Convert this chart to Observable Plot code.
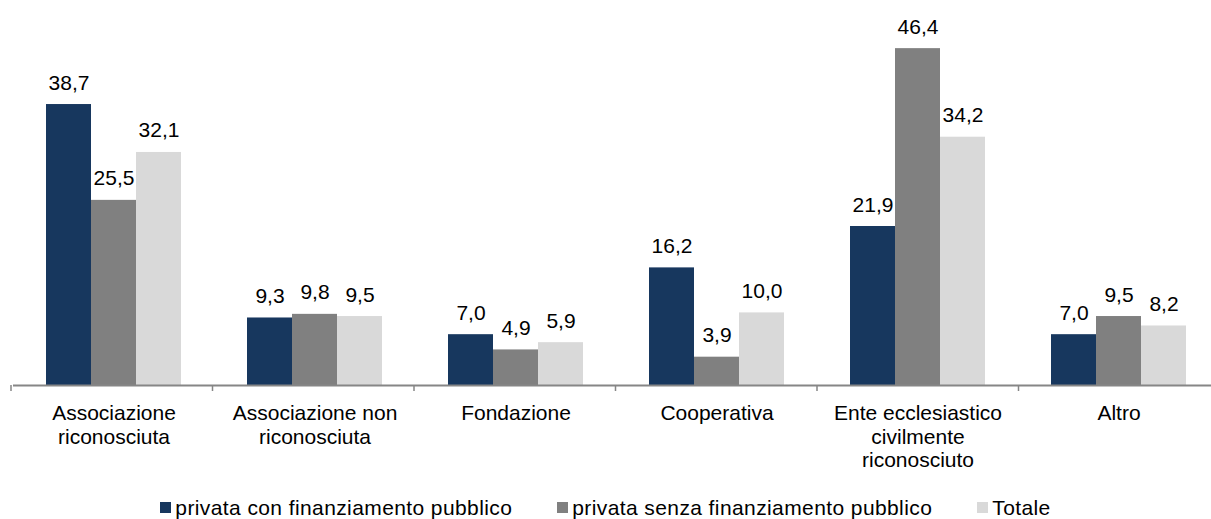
<!DOCTYPE html>
<html><head><meta charset="utf-8">
<script src="https://cdn.jsdelivr.net/npm/d3@7"></script>
<script src="https://cdn.jsdelivr.net/npm/@observablehq/plot@0.6"></script>
<style>
body{margin:0;background:#fff;font-family:"Liberation Sans",Arial,sans-serif;}
#chart svg{display:block;}
#legend{display:flex;justify-content:center;align-items:center;height:29px;font-size:21px;color:#000;gap:45px;margin-top:3px;letter-spacing:0.4px;}
.item{display:flex;align-items:center;white-space:nowrap;}
.sw{width:11px;height:11px;margin-right:4px;}
</style></head><body>
<div id="chart"></div>
<div id="legend"></div>
<script>
const categories = ["Associazione riconosciuta", "Associazione non riconosciuta", "Fondazione", "Cooperativa", "Ente ecclesiastico civilmente riconosciuto", "Altro"];
const categoryLabels = ["Associazione\nriconosciuta", "Associazione non\nriconosciuta", "Fondazione", "Cooperativa", "Ente ecclesiastico\ncivilmente\nriconosciuto", "Altro"];
const seriesNames = ["privata con finanziamento pubblico", "privata senza finanziamento pubblico", "Totale"];
const valuesPubblico = [38.7, 9.3, 7.0, 16.2, 21.9, 7.0];
const valuesSenza = [25.5, 9.8, 4.9, 3.9, 46.4, 9.5];
const valuesTotale = [32.1, 9.5, 5.9, 10.0, 34.2, 8.2];
const colors = ["#17375E", "#808080", "#D9D9D9"];

const seriesValues = [valuesPubblico, valuesSenza, valuesTotale];
const rows = [];
categories.forEach((c, i) => seriesNames.forEach((s, j) => rows.push({category: c, series: s, value: seriesValues[j][i]})));
const fmt = v => v.toFixed(1).replace(".", ",");
const labelOf = Object.fromEntries(categories.map((c, i) => [c, categoryLabels[i]]));

const plot = Plot.plot({
  width: 1211, height: 490,
  marginLeft: 11, marginRight: -9, marginTop: 0, marginBottom: 105,
  style: {fontFamily: '"Liberation Sans", Arial, sans-serif', fontSize: "21px", color: "#000", background: "white", overflow: "visible"},
  fx: {domain: categories, padding: 0, axis: null},
  x: {domain: seriesNames, paddingInner: 0, paddingOuter: 0.724, axis: null},
  y: {domain: [0, 53.03], axis: null},
  color: {domain: seriesNames, range: colors},
  marks: [
    Plot.barY(rows, {fx: "category", x: "series", y: "value", fill: "series"}),
    Plot.ruleY([0], {stroke: "#868686", strokeWidth: 2}),
    Plot.text(rows, {fx: "category", x: "series", y: "value", text: d => fmt(d.value), lineAnchor: "bottom", dy: -15, fontSize: 21, fill: "#000"}),
    Plot.text(categories, {fx: d => d, text: d => labelOf[d], frameAnchor: "bottom", lineAnchor: "top", dy: 18, lineHeight: 1.12, fontSize: 21, fill: "#000"})
  ]
});
document.getElementById("chart").appendChild(plot);

// boundary ticks on the category axis from the fx scale
const fxs = plot.scale("fx");
const y0 = plot.scale("y").range[0];
const r = fxs.range, n = fxs.domain.length, bw = (r[1] - r[0]) / n;
const g = d3.select(plot).append("g").attr("stroke", "#868686").attr("stroke-width", 1.5);
for (let i = 0; i <= n; i++) {
  const x = r[0] + i * bw;
  g.append("line").attr("x1", x).attr("x2", x).attr("y1", y0).attr("y2", y0 + 6);
}

const legend = d3.select("#legend");
seriesNames.forEach((s, i) => {
  const it = legend.append("div").attr("class", "item");
  it.append("div").attr("class", "sw").style("background", colors[i]);
  it.append("span").text(s);
});
</script>
</body></html>
